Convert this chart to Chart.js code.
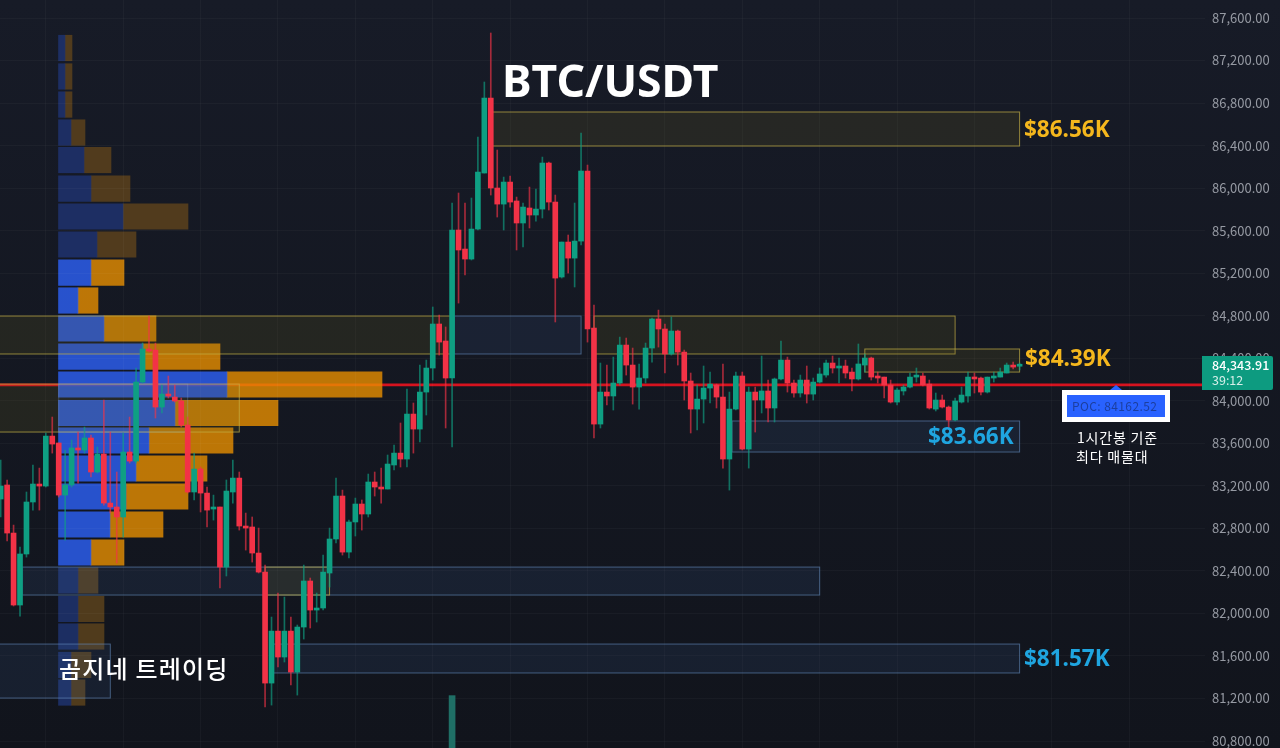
<!DOCTYPE html>
<html>
<head>
<meta charset="utf-8">
<title>BTC/USDT</title>
<script src="https://cdn.jsdelivr.net/npm/chart.js@4/dist/chart.umd.min.js"></script>
<style>
  html, body { margin: 0; padding: 0; }
  body { width: 1280px; height: 748px; overflow: hidden; position: relative;
         background: linear-gradient(#171b27, #11141c); font-family: "Noto Sans CJK KR", sans-serif; }
  canvas { position: absolute; left: 0; top: 0; }
  .note { position: absolute; white-space: nowrap; line-height: 1; }
  .gold { color: #f5b71d; font-size: 22.5px; font-weight: 700; font-family: "Noto Sans", sans-serif; }
  .sky { color: #1fa5e0; font-size: 22.5px; font-weight: 700; font-family: "Noto Sans", sans-serif; }
</style>
</head>
<body>
<canvas id="profile" width="1280" height="748"></canvas>
<canvas id="candles" width="1280" height="748"></canvas>

<div class="note" style="left:502px;top:58px;color:#fff;font-size:44.5px;font-weight:700;font-family:'Noto Sans',sans-serif">BTC/USDT</div>
<div class="note gold" style="left:1024px;top:118px">$86.56K</div>
<div class="note gold" style="left:1025px;top:347px">$84.39K</div>
<div class="note sky" style="left:928px;top:425px">$83.66K</div>
<div class="note sky" style="left:1024px;top:647px">$81.57K</div>
<div class="note" style="left:59px;top:656px;color:#fff;font-size:24px;font-weight:500;letter-spacing:1.2px">곰지네 트레이딩</div>
<div class="note" style="left:1077px;top:430px;color:#fff;font-size:14px;letter-spacing:.8px">1시간봉 기준</div>
<div class="note" style="left:1076px;top:449px;color:#fff;font-size:14px;letter-spacing:.8px">최다 매물대</div>

<div style="position:absolute;left:1110px;top:385px;width:0;height:0;border-left:6px solid transparent;border-right:6px solid transparent;border-bottom:5px solid #2962ff"></div>
<div style="position:absolute;left:1062px;top:390px;width:98px;height:22px;border:5px solid #fff;background:#2962ff"></div>
<div class="note" style="left:1072px;top:400px;color:#1c3f9f;font-size:12px;letter-spacing:.4px">POC: 84162.52</div>

<div style="position:absolute;left:1202px;top:356px;width:71px;height:34px;background:#0d9b80;border-radius:0 2px 2px 0"></div>
<div class="note" style="left:1212px;top:359px;color:#fff;font-size:12.5px;font-weight:500">84,343.91</div>
<div class="note" style="left:1212px;top:374px;color:#d5efe9;font-size:12.5px">39:12</div>

<script>
// candles, oldest first
const opens = [
  83076,83208,82756,82079,82559,83048,83217,83198,83668,83603,
  83113,83208,83556,83537,83650,83330,83499,83038,83001,82907,
  83518,83433,84176,84487,84477,83941,84063,84035,83998,83772,
  83142,83358,83132,82982,83001,82436,83142,83273,82822,82813,
  82568,82389,81345,81834,81590,81834,81449,81872,82305,82032,
  82051,82380,82700,83104,82577,82860,83029,82935,83236,83189,
  83170,83396,83508,83452,83875,83734,84082,84308,84722,84562,
  84214,85606,85427,85333,85615,86142,86847,86001,85850,86057,
  85879,85672,85813,85747,85803,86236,85869,85164,85493,85342,
  85502,86161,84684,83781,84082,84045,84167,84524,84336,84129,
  84214,84496,84769,84675,84440,84656,84458,84186,83922,84016,
  84120,84148,84035,83452,83922,84233,83546,84082,84007,84092,
  83932,84205,84383,84167,84073,84195,84063,84176,84242,84355,
  84308,84327,84270,84205,84336,84402,84233,84223,84148,83988,
  84092,84129,84223,84233,84157,83922,84007,83941,83819,83988,
  84045,84223,84214,84082,84214,84223,84261,84336,84325];
const closes = [
  83198,82756,82079,82559,83048,83217,83198,83668,83593,83113,
  83208,83556,83537,83650,83330,83499,83038,83001,82907,83518,
  83433,84176,84487,84468,83941,84063,84045,83998,83772,83142,
  83358,83132,82972,83001,82436,83151,83273,82822,82803,82568,
  82389,81345,81834,81590,81834,81449,81872,82305,82032,82051,
  82389,82700,83104,82577,82860,83029,82935,83236,83189,83170,
  83405,83508,83452,83875,83734,84082,84308,84722,84552,84214,
  85606,85418,85333,85615,86151,86847,86001,85850,86057,85869,
  85672,85822,85747,85803,86236,85869,85154,85493,85342,85502,
  86161,84675,83781,84082,84045,84167,84524,84336,84129,84214,
  84496,84769,84675,84440,84656,84458,84186,83922,84016,84120,
  84157,84035,83452,83922,84233,83546,84082,84007,84092,83932,
  84205,84383,84167,84073,84195,84063,84176,84252,84355,84308,
  84317,84261,84205,84346,84402,84223,84214,84148,83988,84101,
  84129,84223,84233,84148,83932,84007,83941,83819,83998,84054,
  84223,84205,84082,84223,84233,84270,84336,84317,84344];
const highs = [
  83443,83255,82831,82624,83142,83396,83367,83697,83847,83603,
  83537,83631,83706,83753,83678,83565,84007,83706,83330,83697,
  83847,84308,84543,84797,84543,84148,84233,84148,84026,83847,
  83508,83377,83189,83113,83001,83255,83443,83330,82944,82907,
  82803,82455,81966,82192,82154,81966,81891,82455,82333,82192,
  82549,82803,83273,83160,82878,83085,83067,83311,83330,83367,
  83490,83584,83791,84110,83979,84336,84383,84882,84806,84694,
  85860,85954,85860,85907,86480,86998,87459,86358,86104,86114,
  85916,85860,86010,85991,86292,86245,85935,85493,85559,85860,
  86518,86217,84900,84355,84336,84411,84599,84590,84496,84346,
  84543,84778,84853,84722,84788,84665,84477,84261,84148,84327,
  84270,84157,84346,84082,84270,84270,84129,84129,84421,84195,
  84214,84562,84411,84195,84242,84327,84214,84308,84383,84421,
  84402,84383,84308,84534,84440,84411,84270,84223,84195,84120,
  84148,84261,84308,84261,84195,84073,84054,83951,84026,84129,
  84270,84261,84223,84223,84270,84308,84355,84364,84355];
const lows = [
  82907,82681,82070,81975,82530,82972,82972,83189,83508,83095,
  82690,83189,83226,83508,83283,83320,83019,82944,82474,82718,
  83414,83414,84167,84458,83838,83885,84026,83988,83753,83132,
  83067,82954,82813,82878,82239,82352,83038,82784,82596,82483,
  82380,81120,81138,81496,81543,81327,81232,81759,81863,81919,
  82032,82248,82662,82549,82521,82728,82784,82907,83104,83038,
  83170,83349,83377,83377,83508,83612,83866,84195,84430,83744,
  83565,84919,85183,85324,85606,86142,85935,85728,85606,85822,
  85418,85446,85625,85690,85719,85794,84741,85154,85201,85070,
  85465,84552,83650,83744,83960,83913,84148,84242,83969,83922,
  84167,84364,84505,84261,84430,84336,84007,83697,83725,83791,
  83979,83932,83367,83160,83913,83537,83367,83706,83885,83800,
  83800,84195,84082,84035,84035,83979,84007,84167,84223,84261,
  84167,84214,84092,84195,84270,84195,84167,84026,83979,83960,
  84054,84120,84176,84139,83922,83904,83932,83744,83810,83979,
  83988,84073,84054,84073,84176,84223,84261,84299,84290];

// only one volume bar shows in the screenshot
const volumeCandle = [70];
const volumeValue = [70];

// volume profile rows
const profilePrices = [87318,87050,86786,86523,86264,85996,85733,85470,85206,84943,84680,84416,
                       84153,83885,83626,83363,83100,82836,82573,82310,82042,81783,81515,81256];
const profileBuy  = [6.5,6.5,6.5,12.5,25.5,32.5,64.5,38.5,32.5,19.5,45.5,84.5,
                     168.5,116.5,90.5,77.5,67.5,51.5,32.5,19.5,19.5,19.5,12.5,12.5];
const profileSell = [7,7,7,14,27,39,65,39,33,20,52,77,155,103,84,71,62,53,33,20,26,26,20,14];
const profileBright = [0,0,0,0,0,0,0,0,1,1,1,1,1,1,1,1,1,1,1,0,0,0,0,0];

// zones: start candle, end candle, top price, bottom price, colour kind
const zoneStart  = [76,   -1,   70.3, 92,   134,  -1,   9,    3.3,  41,   -1,   42.2, 113.4];
const zoneEnd    = [158,  70,   90,   148,  158,  37,   29,   127,  51,   17,   158,  158];
const zoneTop    = [86716,84797,84797,84797,84487,84157,84157,82436,82436,81712,81712,83810];
const zoneBottom = [86396,84440,84440,84440,84270,83706,83706,82173,82173,81204,81440,83518];
const zoneKind   = ['y',  'y',  'b',  'y',  'y',  'y',  'f',  'b',  'y',  'b',  'b',  'b'];

const pocPrice = 84150;
const priceTicks = [87600,87200,86800,86400,86000,85600,85200,84800,84400,84000,83600,83200,
                    82800,82400,82000,81600,81200,80800];
const timeTicks = [7,19,31,43,55,67,79,91,103,115,127,139,151,163,175];

const yMax = 87769.3, yMin = 80734.4;
const xMin = -0.104, xMax = 186.75;
const up = '#0f9f83', down = '#f23347';

// profile sits on its own canvas below the candles, it needs indexAxis y
const pocLine = {
  id: 'pocLine',
  beforeDatasetsDraw(chart) {
    const y = chart.scales.y.getPixelForValue(pocPrice);
    const c = chart.ctx;
    c.save();
    c.strokeStyle = '#d6131f';
    c.lineWidth = 2.6;
    c.beginPath();
    c.moveTo(0, y);
    c.lineTo(chart.chartArea.right, y);
    c.stroke();
    c.restore();
  }
};

new Chart(document.getElementById('profile'), {
  type: 'bar',
  plugins: [pocLine],
  data: {
    datasets: [
      {
        data: profilePrices.map((p, i) => ({ x: profileBuy[i], y: p })),
        backgroundColor: profileBright.map(b => b ? 'rgba(45,98,247,.8)' : 'rgba(30,51,110,.85)'),
        barThickness: 25.5
      },
      {
        data: profilePrices.map((p, i) => ({ x: profileSell[i], y: p })),
        backgroundColor: profileBright.map(b => b ? 'rgba(231,142,0,.8)' : 'rgba(92,66,28,.85)'),
        barThickness: 25.5
      }
    ]
  },
  options: {
    indexAxis: 'y',
    responsive: false,
    animation: false,
    devicePixelRatio: 1,
    layout: { padding: { right: 75 }, autoPadding: false },
    plugins: { legend: { display: false }, tooltip: { enabled: false } },
    scales: {
      x: { type: 'linear', stacked: true, min: -58.5, max: 1146.5, display: false },
      y: { type: 'linear', stacked: true, offset: false, min: yMin, max: yMax, display: false }
    }
  }
});

const zones = {
  id: 'zones',
  beforeDatasetsDraw(chart) {
    const c = chart.ctx, sx = chart.scales.x, sy = chart.scales.y;
    const fills = { y: 'rgba(125,115,30,.16)', b: 'rgba(70,110,170,.13)', f: 'rgba(70,110,170,.05)' };
    const lines = { y: 'rgba(195,175,70,.7)', b: 'rgba(100,140,190,.6)', f: 'rgba(140,170,210,.3)' };
    c.save();
    zoneStart.forEach((s, i) => {
      const x0 = sx.getPixelForValue(s), x1 = sx.getPixelForValue(zoneEnd[i]);
      const y0 = sy.getPixelForValue(zoneTop[i]), y1 = sy.getPixelForValue(zoneBottom[i]);
      c.fillStyle = fills[zoneKind[i]];
      c.fillRect(x0, y0, x1 - x0, y1 - y0);
      c.strokeStyle = lines[zoneKind[i]];
      c.lineWidth = 1;
      c.strokeRect(x0, y0, x1 - x0, y1 - y0);
    });
    c.restore();
  }
};

new Chart(document.getElementById('candles'), {
  type: 'bar',
  plugins: [zones],
  data: {
    datasets: [
      {
        // volume
        data: volumeCandle.map((x, i) => ({ x: x, y: volumeValue[i] })),
        yAxisID: 'yVol',
        backgroundColor: '#1f6f66',
        barThickness: 6,
        grouped: false
      },
      {
        // wicks
        data: opens.map((o, i) => ({ x: i, y: [lows[i], highs[i]] })),
        backgroundColor: opens.map((o, i) => closes[i] >= o ? 'rgba(15,159,131,.65)' : 'rgba(242,51,71,.65)'),
        barThickness: 1,
        grouped: false
      },
      {
        // bodies
        data: opens.map((o, i) => ({ x: i, y: [Math.min(o, closes[i]), Math.max(o, closes[i])] })),
        backgroundColor: opens.map((o, i) => closes[i] >= o ? up : down),
        barThickness: 5,
        minBarLength: 2,
        grouped: false
      }
    ]
  },
  options: {
    responsive: false,
    animation: false,
    devicePixelRatio: 1,
    layout: { autoPadding: false },
    plugins: { legend: { display: false }, tooltip: { enabled: false } },
    scales: {
      x: {
        type: 'linear', offset: false, min: xMin, max: xMax, display: true,
        afterBuildTicks: s => { s.ticks = timeTicks.map(v => ({ value: v })); },
        afterFit: s => { s.height = 0; },
        ticks: { display: false },
        grid: { color: 'rgba(255,255,255,.03)', drawTicks: false, offset: false },
        border: { display: false }
      },
      y: {
        type: 'linear', position: 'right', min: yMin, max: yMax,
        afterBuildTicks: s => { s.ticks = priceTicks.map(v => ({ value: v })); },
        // keep the plot full height, tick label margins would squeeze it
        afterFit: s => {
          s.width = 75;
          s.paddingTop = 0;
          s.paddingBottom = 0;
          s._margins.top = 0;
          s._margins.bottom = 0;
        },
        ticks: {
          color: '#969aa3', padding: 7, align: 'center', crossAlign: 'near',
          font: { family: '"Noto Sans CJK KR"', size: 13 },
          callback: v => v.toLocaleString('en-US', { minimumFractionDigits: 2 })
        },
        grid: { color: 'rgba(255,255,255,.03)', drawTicks: false },
        border: { display: false }
      },
      yVol: { type: 'linear', min: 0, max: 1000, display: false }
    }
  }
});
</script>
</body>
</html>
